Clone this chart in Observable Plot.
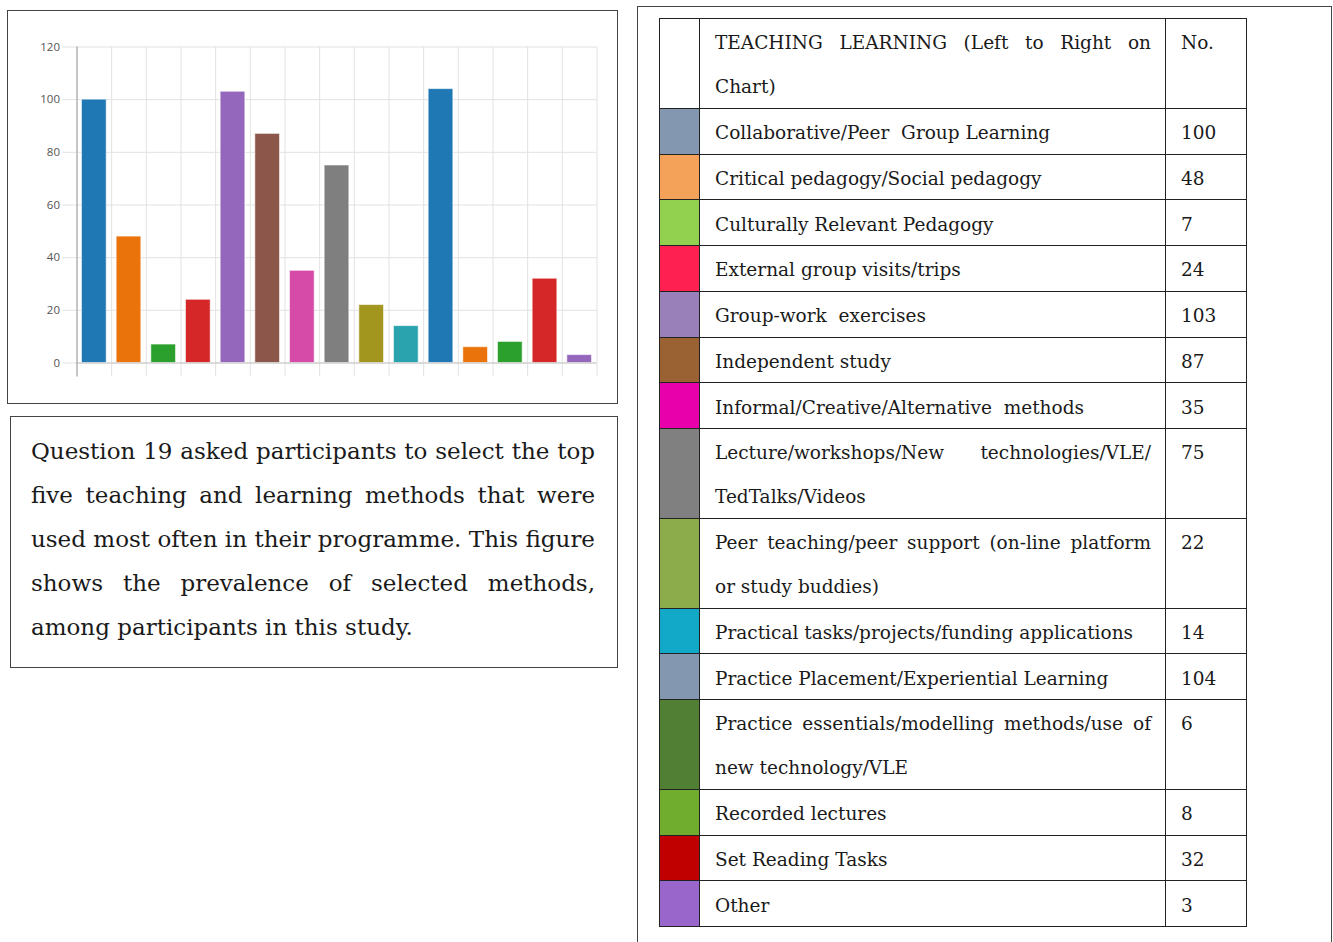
<!DOCTYPE html>
<html><head><meta charset="utf-8">
<script src="https://cdn.jsdelivr.net/npm/d3@7"></script>
<script src="https://cdn.jsdelivr.net/npm/@observablehq/plot@0.6"></script>
<style>
html,body{margin:0;padding:0;background:#fff;}
body{width:1333px;height:942px;overflow:hidden;position:relative;font-family:"DejaVu Serif",serif;color:#1a1a1a;}
#chartbox{position:absolute;left:7px;top:10px;width:611px;height:394px;box-sizing:border-box;border:1.5px solid #444;}
#chartbox svg{display:block;}
#textbox{position:absolute;left:10px;top:416px;width:608px;height:252px;box-sizing:border-box;border:1.5px solid #444;padding:12px 22px 0 20px;font-size:23px;line-height:44px;text-align:justify;}
#frame{position:absolute;left:637px;top:6px;width:695px;height:960px;box-sizing:border-box;border:1.3px solid #444;}
#legend{position:absolute;left:659px;top:18px;width:587px;border-collapse:collapse;table-layout:fixed;font-size:18.5px;}
#legend td{border:1.5px solid #222;padding:0.75px 14px 0 15px;line-height:44px;vertical-align:top;text-align:justify;white-space:pre-wrap;}
#legend td span{position:relative;top:1.5px;}
#legend td.sw{padding:0;}
</style>
</head><body>
<div id="chartbox"></div>
<div id="textbox"></div>
<div id="frame"></div>
<table id="legend"><colgroup><col style="width:40px"><col style="width:466px"><col style="width:81px"></colgroup><tbody></tbody></table>
<script>
const categories = [
  "Collaborative/Peer  Group Learning",
  "Critical pedagogy/Social pedagogy",
  "Culturally Relevant Pedagogy",
  "External group visits/trips",
  "Group-work  exercises",
  "Independent study",
  "Informal/Creative/Alternative  methods",
  "Lecture/workshops/New technologies/VLE/\u200BTedTalks/Videos",
  "Peer teaching/peer support (on-line platform or study buddies)",
  "Practical tasks/projects/funding applications",
  "Practice Placement/Experiential Learning",
  "Practice essentials/modelling methods/use of new technology/VLE",
  "Recorded lectures",
  "Set Reading Tasks",
  "Other"
];
const counts = [100, 48, 7, 24, 103, 87, 35, 75, 22, 14, 104, 6, 8, 32, 3];
const barColors = ["#1f77b4","#eb730b","#2ca02c","#d62728","#9467bd","#8c564b","#d64aa8","#7f7f7f","#a3961f","#2aa3ae","#1f77b4","#eb730b","#2ca02c","#d62728","#9467bd"];
const swatchColors = ["#8497b0","#f4a15a","#92d050","#ff2052","#9a80b9","#9a6233","#e800aa","#808080","#8cab4b","#12a9c9","#8497b0","#517f34","#70ad2f","#c00000","#9966cc"];
const yTicks = [0, 20, 40, 60, 80, 100, 120];
const headerLabel = "TEACHING LEARNING (Left to Right on Chart)";
const headerCount = "No.";
const captionText = "Question 19 asked participants to select the top five teaching and learning methods that were used most often in their programme. This figure shows the prevalence of selected methods, among participants in this study.";

const rows = categories.map((c, i) => ({i, category: c, value: counts[i], color: barColors[i]}));

const chart = Plot.plot({
  width: 608, height: 391,
  marginLeft: 68.5, marginRight: 19.5, marginTop: 35.5, marginBottom: 39.5,
  style: {fontFamily: "'Open Sans', sans-serif", fontSize: "11.5px", color: "#555", background: "transparent"},
  x: {domain: [0, categories.length], axis: null},
  y: {domain: [0, 120], axis: null},
  marks: [
    Plot.gridY(yTicks, {stroke: "#e2e2e2", strokeOpacity: 1}),
    Plot.gridX(d3.range(categories.length + 1), {stroke: "#e2e2e2", strokeOpacity: 1, insetBottom: -14}),
    Plot.axisY(yTicks, {tickSize: 14, tickPadding: 3, stroke: "#e2e2e2", strokeOpacity: 1, fill: "#555", label: null}),
    Plot.rectY(rows, {x1: "i", x2: d => d.i + 1, y: "value", fill: "color", insetLeft: 5, insetRight: 5, stroke: "#ffffff", strokeOpacity: 0.55, strokeWidth: 1, title: "category"}),
    Plot.ruleY([0], {stroke: "#c4c4c4"}),
    Plot.ruleX([0], {y1: 120, y2: 0, stroke: "#9a9a9a", insetBottom: -14})
  ]
});
document.getElementById("chartbox").append(chart);

document.getElementById("textbox").textContent = captionText;

const tbody = d3.select("#legend tbody");
const hr = tbody.append("tr");
hr.append("td").attr("class", "sw");
hr.append("td").append("span").text(headerLabel);
hr.append("td").append("span").text(headerCount);
rows.forEach((r, i) => {
  const tr = tbody.append("tr");
  tr.append("td").attr("class", "sw").style("background", swatchColors[i]);
  tr.append("td").append("span").text(r.category);
  tr.append("td").append("span").text(r.value);
});
</script>
</body></html>
